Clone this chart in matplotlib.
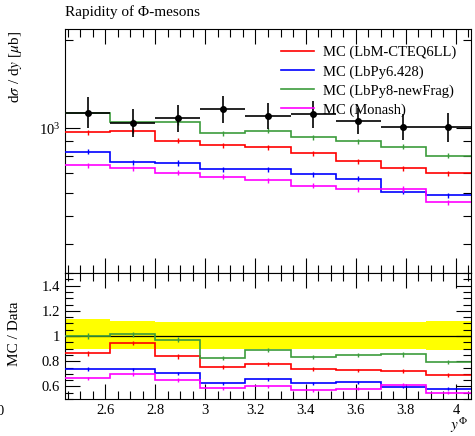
import numpy as np
import matplotlib
matplotlib.use("Agg")
import matplotlib.pyplot as plt
from matplotlib.ticker import MultipleLocator, LogLocator, NullFormatter, FixedLocator, FixedFormatter

plt.rcParams['font.family'] = ['Liberation Serif', 'DejaVu Serif']
plt.rcParams['mathtext.fontset'] = 'stix'

# ---- data ----
bin_edges = [2.44, 2.62, 2.80, 2.98, 3.16, 3.34, 3.52, 3.70, 3.88, 4.06]
data_vals = [1123, 1038, 1080, 1160, 1102, 1115, 1060, 1010, 1010]
data_err_up = [155, 127, 124, 128, 121, 123, 117, 111, 120]
data_err_dn = [119, 104, 108, 116, 110, 112, 106, 101, 114]

mc_labels = ['MC (LbM-CTEQ6LL)', 'MC (LbPy6.428)', 'MC (LbPy8-newFrag)', 'MC (Monash)']
mc_colors = ['#ff0000', '#0000ff', '#3c9c3c', '#ff00ff']
mc_lbm = [968, 981, 905, 872, 858, 821, 770, 727, 699]
mc_py6 = [831, 763, 759, 723, 723, 695, 670, 605, 589]
mc_py8 = [1123, 1053, 1050, 960, 979, 929, 900, 862, 805]
mc_monash = [747, 727, 704, 681, 662, 634, 616, 618, 556]
mc_rel_err = [0.02, 0.02, 0.02, 0.02, 0.02, 0.02, 0.02, 0.02, 0.02]

x_ticks = [2.6, 2.8, 3.0, 3.2, 3.4, 3.6, 3.8, 4.0]
x_ticklabels = ['2.6', '2.8', '3', '3.2', '3.4', '3.6', '3.8', '4']
r_ticks = [0.6, 0.8, 1.0, 1.2, 1.4]
r_ticklabels = ['0.6', '0.8', '1', '1.2', '1.4']

edges = np.array(bin_edges)
centers = 0.5 * (edges[:-1] + edges[1:])
halfw = 0.5 * (edges[1:] - edges[:-1])
data = np.array(data_vals, dtype=float)
mcs = [np.array(v, dtype=float) for v in (mc_lbm, mc_py6, mc_py8, mc_monash)]
rel = np.array(mc_rel_err)

W, H = 475, 436
fig = plt.figure(figsize=(W / 100, H / 100), dpi=100)
L, R = 65 / W, 471 / W
ax = fig.add_axes([L, 1 - 273 / H, R - L, (273 - 29) / H])
axr = fig.add_axes([L, 1 - 399 / H, R - L, (399 - 273) / H], sharex=ax)

# main panel
for v, c, lab in zip(mcs, mc_colors, mc_labels):
    ax.stairs(v, edges, baseline=None, color=c, lw=1.2, label=lab, zorder=3)
    ax.errorbar(centers, v, yerr=v * rel, fmt='none', ecolor=c, elinewidth=1.0, zorder=3)
ax.errorbar(centers, data, xerr=halfw, yerr=[data_err_dn, data_err_up], fmt='o',
            color='black', ms=4, elinewidth=1.2, capsize=0, zorder=5)

ax.set_yscale('log')
ax.set_ylim(318, 2190)
ax.set_xlim(edges[0], edges[-1])
ax.yaxis.set_major_locator(LogLocator(base=10, numticks=10))
ax.yaxis.set_minor_locator(LogLocator(base=10, subs=np.arange(2, 10), numticks=20))
ax.yaxis.set_minor_formatter(NullFormatter())
ax.xaxis.set_major_locator(FixedLocator(x_ticks))
ax.xaxis.set_minor_locator(MultipleLocator(0.05))
plt.setp(ax.get_xticklabels(), visible=False)

for a in (ax, axr):
    a.tick_params(which='both', direction='in', top=True, right=True, labelsize=10.5)
    a.tick_params(which='major', length=11, width=0.8)
    a.tick_params(which='minor', length=5.5, width=0.8)
    for s in a.spines.values():
        s.set_linewidth(0.8)

leg = ax.legend(loc='upper left', bbox_to_anchor=(281 / W, 1 - 46 / H),
                bbox_transform=fig.transFigure, frameon=False, fontsize=10.5,
                handlelength=2.25, handletextpad=0.6, labelspacing=0.38,
                borderpad=0, borderaxespad=0)

# ratio panel
axr.stairs(1 + np.array(data_err_up) / data, edges, baseline=1 - np.array(data_err_dn) / data,
           fill=True, color='#ffff00', zorder=1)
axr.stairs(np.ones_like(data), edges, baseline=None, color='black', lw=0.9, zorder=2)
for v, c in zip(mcs, mc_colors):
    r = v / data
    axr.stairs(r, edges, baseline=None, color=c, lw=1.2, zorder=3)
    axr.errorbar(centers, r, yerr=r * rel, fmt='none', ecolor=c, elinewidth=1.0, zorder=3)
axr.set_ylim(0.5, 1.5)
axr.yaxis.set_major_locator(FixedLocator(r_ticks))
axr.yaxis.set_major_formatter(FixedFormatter(r_ticklabels))
axr.yaxis.set_minor_locator(MultipleLocator(0.05))
axr.xaxis.set_major_locator(FixedLocator(x_ticks))
axr.xaxis.set_major_formatter(FixedFormatter(x_ticklabels))
axr.xaxis.set_minor_locator(MultipleLocator(0.05))
axr.set_xlim(edges[0], edges[-1])

# texts
fig.text(L, 1 - 12 / H, 'Rapidity of Φ-mesons', ha='left', va='center', fontsize=11)
fig.text(15 / W, 1 - 31 / H, r'd$\sigma$ / d$y$ [$\mu$b]', rotation=90, ha='center', va='top', fontsize=11)
fig.text(15 / W, 1 - 334 / H, 'MC / Data', rotation=90, ha='center', va='center', fontsize=11)
fig.text(459 / W, 1 - 435 / H, r'$y^{\Phi}$', ha='center', va='bottom', fontsize=11)
fig.text(0.0, 1 - 411 / H, '0', ha='center', va='center', fontsize=10.5)

fig.savefig('out.png', dpi=100)
